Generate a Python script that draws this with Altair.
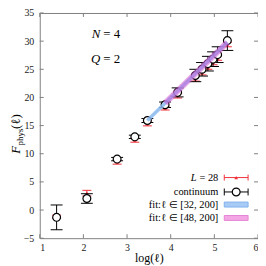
import altair as alt
import numpy as np
import pandas as pd

# ---------------- data ----------------
ell = [4, 8, 16, 24, 32, 48, 64, 96, 112, 128, 144, 160, 200]
cont_F = [-1.3, 2.05, 9.05, 13.0, 15.9, 18.7, 20.9, 23.9, 25.0, 26.0, 26.8, 27.6, 30.1]
cont_err = [2.2, 0.85, 0.3, 0.3, 0.35, 0.5, 0.8, 1.1, 1.2, 1.3, 1.3, 1.4, 1.75]
L28_F = [-1.2, 3.0, 8.5, 12.4, 15.3, 18.1, 20.3, 23.3, 24.4, 25.4, 26.2, 27.0, 29.4]
L28_err = [0.3, 0.5, 0.35, 0.35, 0.35, 0.35, 0.4, 0.4, 0.4, 0.4, 0.4, 0.4, 0.4]
fit32_ell = [32, 200]
fit32_F = [15.9, 29.8]
fit48_ell = [48, 200]
fit48_F = [19.0, 29.8]
x_ticks = [1, 2, 3, 4, 5, 6]
y_ticks = [-5, 0, 5, 10, 15, 20, 25, 30, 35]
legend_labels = ["continuum", "fit:ℓ ∈ [32, 200]", "fit:ℓ ∈ [48, 200]"]

W, H = 220, 227
SERIF = "Liberation Serif"
FRAME = "#808080"
RED = "#f0303a"
BLUE = "#8ab8f0"
PINK = "#d050d0"


def X(f):
    return alt.X(f"{f}:Q", scale=alt.Scale(domain=[1, 6], nice=False, zero=False),
                 axis=alt.Axis(values=x_ticks, title="log(ℓ)", format="d"))


def Y(f):
    return alt.Y(f"{f}:Q", scale=alt.Scale(domain=[-5, 35], nice=False, zero=False),
                 axis=alt.Axis(values=y_ticks, title=None, format="d"))


lx = np.log(np.array(ell, dtype=float))
cont = pd.DataFrame({"lx": lx, "F": cont_F,
                     "lo": np.array(cont_F) - np.array(cont_err),
                     "hi": np.array(cont_F) + np.array(cont_err)})
red = pd.DataFrame({"lx": lx, "F": L28_F,
                    "lo": np.array(L28_F) - np.array(L28_err),
                    "hi": np.array(L28_F) + np.array(L28_err)})
fit32 = pd.DataFrame({"lx": np.log(np.array(fit32_ell, dtype=float)), "F": fit32_F})
fit48 = pd.DataFrame({"lx": np.log(np.array(fit48_ell, dtype=float)), "F": fit48_F})
xt = pd.DataFrame({"t": x_ticks})
yt = pd.DataFrame({"t": y_ticks})
dummy = pd.DataFrame({"a": [0]})

layers = []

# inward ticks on all four sides
layers.append(alt.Chart(xt).mark_rule(color=FRAME, strokeWidth=1).encode(
    x=X("t"), y=alt.value(H), y2=alt.value(H - 4)))
layers.append(alt.Chart(xt).mark_rule(color=FRAME, strokeWidth=1).encode(
    x=X("t"), y=alt.value(0), y2=alt.value(4)))
layers.append(alt.Chart(yt).mark_rule(color=FRAME, strokeWidth=1).encode(
    y=Y("t"), x=alt.value(0), x2=alt.value(4)))
layers.append(alt.Chart(yt).mark_rule(color=FRAME, strokeWidth=1).encode(
    y=Y("t"), x=alt.value(W - 4), x2=alt.value(W)))

# L = 28 (red) error bars
layers.append(alt.Chart(red).mark_rule(color=RED, strokeWidth=1).encode(
    x=X("lx"), y=Y("lo"), y2="hi"))
for f in ["lo", "hi"]:
    layers.append(alt.Chart(red).mark_tick(color=RED, orient="horizontal", size=9, thickness=1,
                                           opacity=1).encode(x=X("lx"), y=Y(f)))
layers.append(alt.Chart(red).mark_point(shape="triangle-up", filled=True, color=RED, size=14,
                                        opacity=1).encode(x=X("lx"), y=Y("F")))

# continuum (black) error bars and circles
layers.append(alt.Chart(cont).mark_rule(color="black", strokeWidth=1).encode(
    x=X("lx"), y=Y("lo"), y2="hi"))
for f in ["lo", "hi"]:
    layers.append(alt.Chart(cont).mark_tick(color="black", orient="horizontal", size=12, thickness=1,
                                            opacity=1).encode(x=X("lx"), y=Y(f)))
layers.append(alt.Chart(cont).mark_point(shape="circle", filled=True, fill="white", stroke="black",
                                         strokeWidth=1.2, size=62, opacity=1).encode(
    x=X("lx"), y=Y("F")))

# fits
layers.append(alt.Chart(fit32).mark_line(color=BLUE, strokeWidth=3.5, opacity=0.85).encode(
    x=X("lx"), y=Y("F")))
layers.append(alt.Chart(fit48).mark_line(color=PINK, strokeWidth=6, opacity=0.5).encode(
    x=X("lx"), y=Y("F")))


def vtext(txt, x, y, size=12, align="right", style="normal", angle=0, baseline="middle"):
    return alt.Chart(dummy).mark_text(text=txt, font=SERIF, fontSize=size, align=align,
                                      fontStyle=style, angle=angle, baseline=baseline,
                                      color="black").encode(x=alt.value(x), y=alt.value(y))


# annotations N = 4, Q = 2
layers.append(vtext("N", 61, 20.9, size=13, align="right", style="italic"))
layers.append(vtext("= 4", 64, 20.9, size=13, align="left"))
layers.append(vtext("Q", 61, 46.6, size=13, align="right", style="italic"))
layers.append(vtext("= 2", 64, 46.6, size=13, align="left"))

# y axis title F_phys(l)
layers.append(vtext("F", -19.5, 142, size=13, align="left", style="italic", angle=270,
                    baseline="alphabetic"))
layers.append(vtext("phys", -16.5, 133.5, size=9, align="left", angle=270, baseline="alphabetic"))
layers.append(vtext("(ℓ)", -19.5, 117, size=13, align="left", angle=270, baseline="alphabetic"))

# legend
LF = 10.5
r1, r2, r3, r4 = 165.9, 180.4, 193.1, 206.6
xa, xb, xm, tx = 186, 210, 198, 180
layers.append(vtext("= 28", tx, r1, size=LF))
layers.append(vtext("L", tx - 22, r1, size=LF, style="italic"))
layers.append(vtext(legend_labels[0], tx, r2, size=LF))
layers.append(vtext(legend_labels[1], tx, r3, size=LF))
layers.append(vtext(legend_labels[2], tx, r4, size=LF))

layers.append(alt.Chart(dummy).mark_rule(color=RED, strokeWidth=1).encode(
    x=alt.value(xa), x2=alt.value(xb), y=alt.value(r1)))
for xc in (xa, xb):
    layers.append(alt.Chart(dummy).mark_rule(color=RED, strokeWidth=1).encode(
        x=alt.value(xc), y=alt.value(r1 - 3), y2=alt.value(r1 + 3)))
layers.append(alt.Chart(dummy).mark_point(shape="triangle-up", filled=True, color=RED, size=14,
                                          opacity=1).encode(x=alt.value(xm), y=alt.value(r1)))

layers.append(alt.Chart(dummy).mark_rule(color="black", strokeWidth=1).encode(
    x=alt.value(xa), x2=alt.value(xb), y=alt.value(r2)))
for xc in (xa, xb):
    layers.append(alt.Chart(dummy).mark_rule(color="black", strokeWidth=1).encode(
        x=alt.value(xc), y=alt.value(r2 - 3.5), y2=alt.value(r2 + 3.5)))
layers.append(alt.Chart(dummy).mark_point(shape="circle", filled=True, fill="white", stroke="black",
                                          strokeWidth=1.2, size=62, opacity=1).encode(
    x=alt.value(xm), y=alt.value(r2)))

layers.append(alt.Chart(dummy).mark_rect(fill="#a8cbf5", stroke="#7fb0ee", strokeWidth=1).encode(
    x=alt.value(xa), x2=alt.value(xb), y=alt.value(r3 - 2.5), y2=alt.value(r3 + 2.5)))
layers.append(alt.Chart(dummy).mark_rect(fill="#f4a6e4", stroke="#e585d4", strokeWidth=1).encode(
    x=alt.value(xa), x2=alt.value(xb), y=alt.value(r4 - 2.5), y2=alt.value(r4 + 2.5)))

chart = alt.layer(*layers).properties(
    width=W, height=H,
    autosize=alt.AutoSizeParams(type="none"),
    padding={"left": 32, "top": 4, "right": 0, "bottom": 27},
).configure_view(
    stroke=FRAME, strokeWidth=1
).configure_axis(
    domain=False, ticks=False, tickSize=0, grid=False,
    labelFont=SERIF, labelFontSize=10, labelColor="#222",
    titleFont=SERIF, titleFontSize=12, titleFontWeight="normal", titleColor="black",
).configure_axisX(
    labelPadding=4, titlePadding=0
).configure_axisY(
    labelPadding=6
)

chart.save("out.html", embed_options={"renderer": "svg", "actions": False})
